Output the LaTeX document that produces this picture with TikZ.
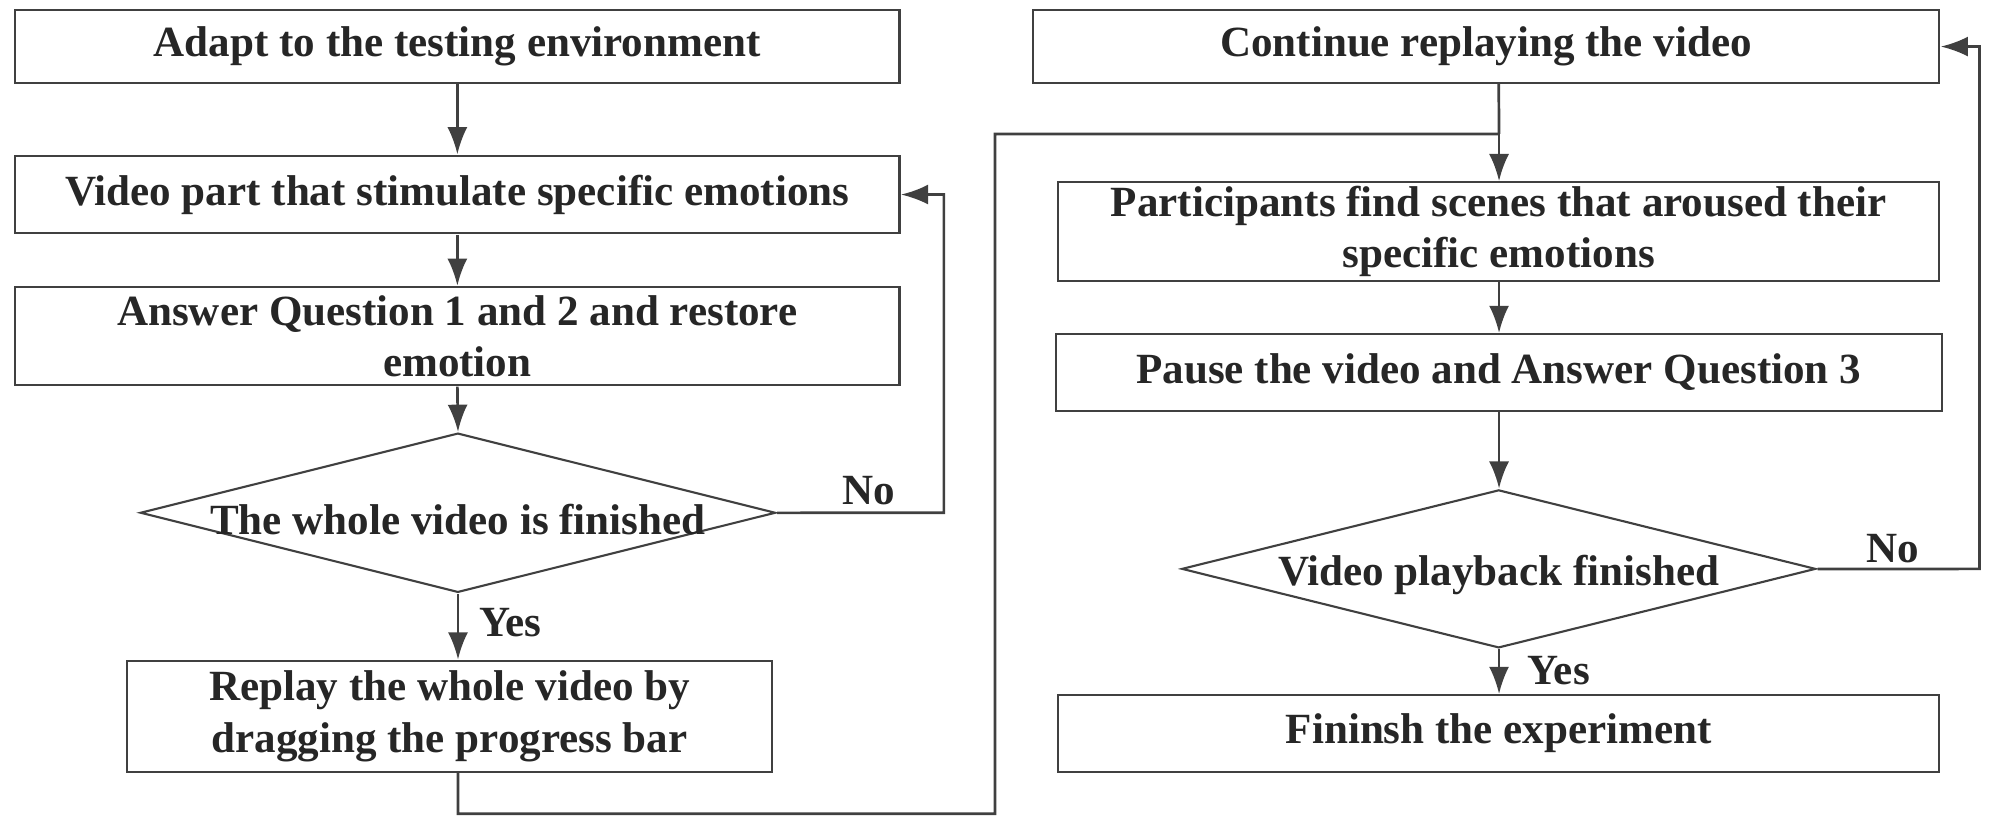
\documentclass[tikz,border=0pt]{standalone}
\usepackage{fontspec}
\setmainfont{Liberation Serif}
\usetikzlibrary{shapes.geometric,arrows.meta}
\begin{document}
\begin{tikzpicture}[x=0.01cm,y=-0.01cm,scale=1.2755,
  every node/.style={transform shape, font=\fontsize{9.6}{11.5}\selectfont\bfseries, text=black!85},
  box/.style={draw=black!75, line width=0.6pt, inner sep=0pt, align=center},
  line/.style={draw=black!75, line width=0.77pt},
  arr/.style={line, -{Latex[length=7.7pt,width=5.7pt]}}]
\useasboundingbox (0,0) rectangle (1568,650.7);
\node[box, minimum width=6.93cm, minimum height=0.57cm] (a) at (358.5,36.5) {Adapt to the testing environment};
\node[box, minimum width=6.93cm, minimum height=0.61cm] (b) at (358.5,152.5) {Video part that stimulate specific emotions};
\node[box, minimum width=6.93cm, minimum height=0.77cm] (c) at (358.5,263.5) {Answer Question 1 and 2 and restore\\emotion};
\node[box, diamond, aspect=4, minimum width=4.98cm, minimum height=1.25cm] (d) at (359,402) {};
\node at (359,407) {The whole video is finished};
\node[box, minimum width=5.05cm, minimum height=0.87cm] (e) at (352.5,561.5) {Replay the whole video by\\dragging the progress bar};
\node[box, minimum width=7.1cm, minimum height=0.57cm] (f) at (1165,36.5) {Continue replaying the video};
\node[box, minimum width=6.9cm, minimum height=0.77cm] (g) at (1175,181.5) {Participants find scenes that aroused their\\specific emotions};
\node[box, minimum width=6.94cm, minimum height=0.6cm] (h) at (1175,292) {Pause the video and Answer Question 3};
\node[box, diamond, aspect=4, minimum width=4.97cm, minimum height=1.24cm] (i) at (1175,446) {};
\node at (1175,451) {Video playback finished};
\node[box, minimum width=6.9cm, minimum height=0.6cm] (j) at (1175,575) {Fininsh the experiment};
\coordinate (m) at (1175,105);
\draw[arr] (a.south) -- (b.north);
\draw[arr] (b.south) -- (c.north);
\draw[arr] (c.south) -- (d.north);
\draw[arr] (d.south) -- (e.north -| d.south);
\draw[arr] (d.east) -- (740,402) -- (740,152.5) -- (b.east);
\draw[line] (e.south -| d.south) -- (359,638) -- (780,638) -- (780,105) -- (m);
\draw[line] (1175,65) -- (m);
\draw[arr] (m) -- (g.north);
\draw[arr] (g.south) -- (h.north);
\draw[arr] (h.south) -- (i.north);
\draw[arr] (i.south) -- (j.north);
\draw[arr] (i.east) -- (1552,446) -- (1552,36.5) -- (f.east);
\node at (681,385) {No};
\node at (400,488) {Yes};
\node at (1484,430) {No};
\node at (1222,526) {Yes};
\end{tikzpicture}
\end{document}
